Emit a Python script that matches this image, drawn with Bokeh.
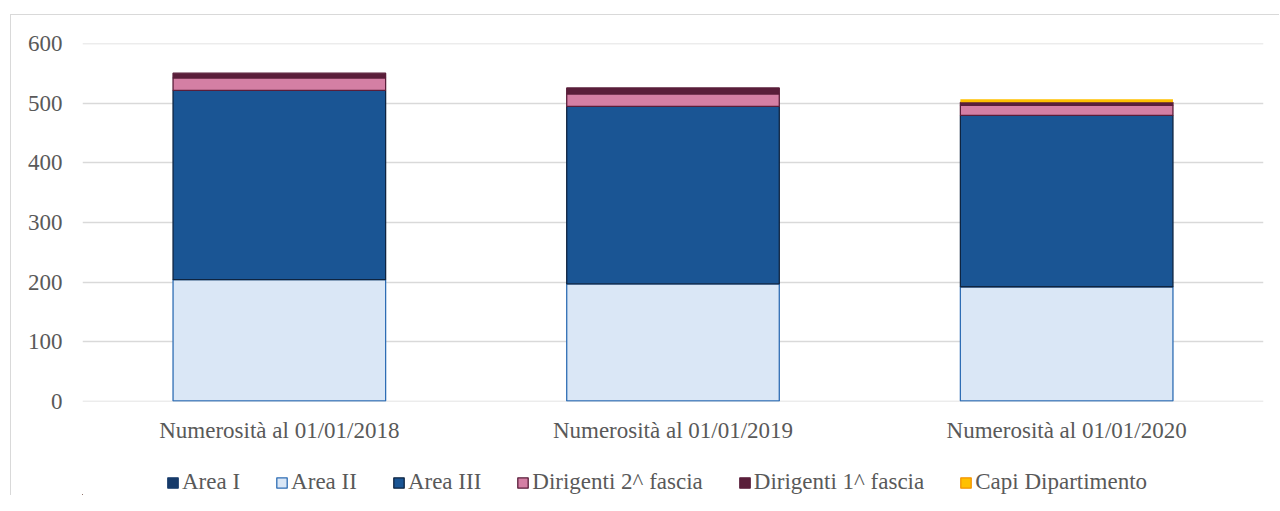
from bokeh.plotting import figure
from bokeh.models import FactorRange, Legend, SingleIntervalTicker
from bokeh.layouts import column
from bokeh.embed import file_html
from bokeh.resources import INLINE

categories = ["Numerosità al 01/01/2018", "Numerosità al 01/01/2019", "Numerosità al 01/01/2020"]
series_names = ["Area I", "Area II", "Area III", "Dirigenti 2^ fascia", "Dirigenti 1^ fascia", "Capi Dipartimento"]
area_1 = [0, 0, 0]
area_2 = [204, 197, 192]
area_3 = [318, 298, 288]
dirigenti_2 = [21, 21, 17]
dirigenti_1 = [8, 10, 5]
capi_dipartimento = [0, 0, 5]

keys = ["a1", "a2", "a3", "d2", "d1", "cd"]
data = dict(cat=categories, a1=area_1, a2=area_2, a3=area_3,
            d2=dirigenti_2, d1=dirigenti_1, cd=capi_dipartimento)

fills = ["#163a6a", "#dae7f6", "#1a5594", "#d47fa4", "#5a1e3a", "#ffc000"]
lines = [None, "#2e6db4", "#0e2440", "#5a1e3a", "#5a1e3a", None]
legend_lines = ["#163a6a", "#2e6db4", "#0e2440", "#5a1e3a", "#5a1e3a", "#f39200"]

FONT = "Liberation Serif"
TXT = "#595959"
FS = "23px"

p = figure(x_range=FactorRange(*categories, range_padding=0), y_range=(-0.8, 600.8),
           frame_width=1181, frame_height=358, output_backend="svg", toolbar_location=None,
           min_border_left=71, min_border_right=15, min_border_top=28, min_border_bottom=50)

p.vbar_stack(keys, x="cat", width=0.54, source=data,
             fill_color=fills, line_color=lines, line_width=1.3)

p.outline_line_color = None
p.xgrid.grid_line_color = None
p.ygrid.grid_line_color = "#d9d9d9"
p.ygrid.grid_line_width = 1.5
p.yaxis.ticker = SingleIntervalTicker(interval=100)
for ax in (p.xaxis[0], p.yaxis[0]):
    ax.axis_line_color = None
    ax.major_tick_line_color = None
    ax.minor_tick_line_color = None
    ax.major_tick_out = 0
    ax.minor_tick_out = 0
    ax.major_label_text_font = FONT
    ax.major_label_text_font_size = FS
    ax.major_label_text_color = TXT
p.yaxis.major_label_standoff = 20
p.xaxis.major_label_standoff = 16

# legend strip below the chart (its proxy bars sit far outside the visible ranges)
legend_data = dict(x=[-10.0] * len(categories), a1=area_1, a2=area_2, a3=area_3,
                   d2=dirigenti_2, d1=dirigenti_1, cd=capi_dipartimento)
lf = figure(width=1268, height=44, output_backend="svg", toolbar_location=None,
            x_axis_type=None, y_axis_type=None,
            x_range=(0, 1), y_range=(5000, 5001),
            min_border_left=0, min_border_right=0, min_border_top=0, min_border_bottom=0)
lf.outline_line_color = None
lf.xgrid.grid_line_color = None
lf.ygrid.grid_line_color = None
lrs = lf.vbar_stack(keys, x="x", width=0.001, source=legend_data,
                    fill_color=fills, line_color=legend_lines, line_width=1.3)
legend = Legend(items=[(n, [r]) for n, r in zip(series_names, lrs)],
                orientation="horizontal", location=(84, 0),
                label_text_font=FONT, label_text_font_size=FS, label_text_color=TXT,
                glyph_width=13, glyph_height=13, label_standoff=3, spacing=35,
                border_line_color=None, background_fill_alpha=0,
                margin=0, padding=0)
lf.add_layout(legend, "center")

layout = column(p, lf, margin=(14, 0, 0, 10), spacing=0,
                styles={"border-left": "1px solid #d9d9d9", "border-top": "1px solid #d9d9d9"})

open("out.html", "w").write(file_html(layout, INLINE))
